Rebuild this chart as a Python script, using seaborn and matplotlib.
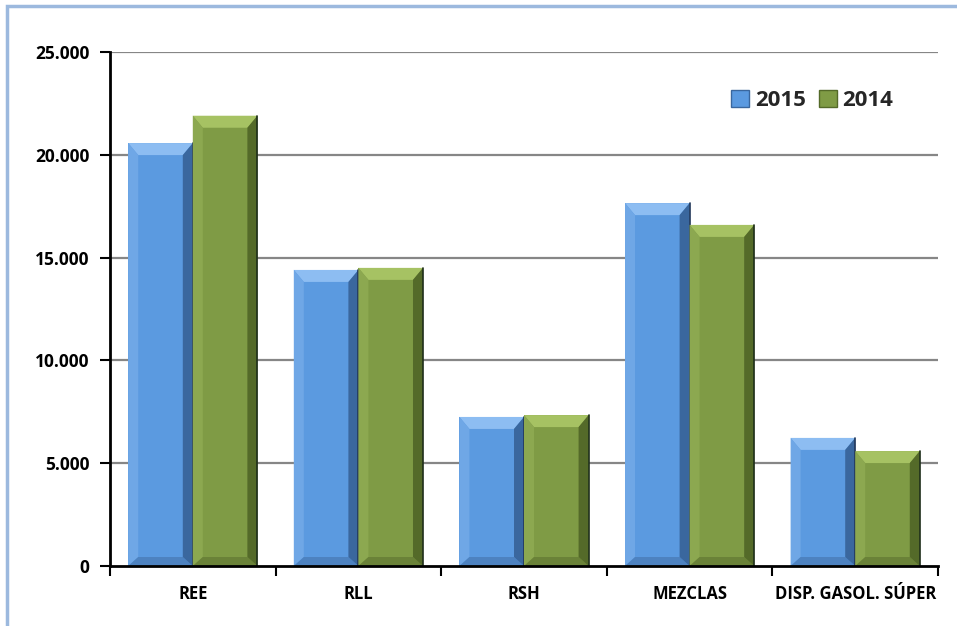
import matplotlib
matplotlib.use("Agg")
import matplotlib.pyplot as plt
import seaborn as sns
import pandas as pd
from matplotlib.patches import Polygon, Rectangle
from matplotlib.ticker import FuncFormatter, FixedLocator

categories = ["REE", "RLL", "RSH", "MEZCLAS", "DISP. GASOL. SÚPER"]
series_names = ["2015", "2014"]
values_2015 = [20570, 14400, 7250, 17650, 6230]
values_2014 = [21900, 14500, 7340, 16590, 5590]
y_ticks = [0, 5000, 10000, 15000, 20000, 25000]

df = pd.DataFrame({
    "cat": categories * 2,
    "year": [series_names[0]] * len(categories) + [series_names[1]] * len(categories),
    "val": values_2015 + values_2014,
})

sns.set_theme(style="white")
plt.rcParams["font.family"] = ["Open Sans", "DejaVu Sans"]
plt.rcParams["font.weight"] = "bold"

fig = plt.figure(figsize=(9.57, 6.26), dpi=100)
ax = fig.add_axes([110/957, 1-566/626, (938-110)/957, (566-52)/626])

base = {"2015": "#5B9AE0", "2014": "#7F9B45"}
light = {"2015": "#8DBDF2", "2014": "#A6C263"}
lside = {"2015": "#6FA7E6", "2014": "#8CA850"}
dark = {"2015": "#3A679E", "2014": "#546A29"}
bottomc = {"2015": "#4D82C0", "2014": "#6A8238"}

sns.barplot(data=df, x="cat", y="val", hue="year", hue_order=series_names,
            order=categories, palette=base, width=0.78, gap=0, saturation=1,
            ax=ax, legend=False, linewidth=0, zorder=3)

ax.set_xlim(-0.5, len(categories) - 0.5)
ax.set_ylim(0, 25000)
ax.set_yticks(y_ticks)
ax.yaxis.set_major_formatter(FuncFormatter(lambda v, p: "0" if v == 0 else f"{int(v):,}".replace(",", ".")))
ax.grid(False)
for t in y_ticks[1:]:
    ax.axhline(t, color="#868686", lw=1.6, zorder=1)

for s in ["top", "right"]:
    ax.spines[s].set_visible(False)
for s in ["left", "bottom"]:
    ax.spines[s].set_color("black")
    ax.spines[s].set_linewidth(2)
    ax.spines[s].set_zorder(5)

ax.set_xlabel("")
ax.set_ylabel("")
ax.tick_params(axis="y", which="major", direction="out", length=7, width=1.5, color="black",
               left=True, labelsize=12.5, pad=8)
ax.tick_params(axis="x", which="major", length=0, labelsize=12, pad=14)
ax.xaxis.set_minor_locator(FixedLocator([i - 0.5 for i in range(len(categories) + 1)]))
ax.tick_params(axis="x", which="minor", direction="out", length=7, width=1.5, color="black", bottom=True)

# bevel overlays derived from the bar patches
fig.canvas.draw()
for tk in ax.xaxis.get_major_ticks() + ax.yaxis.get_major_ticks():
    tk.label1.set_fontweight("bold")
    tk.label1.set_color("black")
inv = ax.transData.inverted()
p0 = inv.transform((0, 0))
p1 = inv.transform((10, 12))
dx = abs(p1[0] - p0[0])
dy = abs(p1[1] - p0[1])
p2 = inv.transform((0, 9))
dyb = abs(p2[1] - p0[1])

bars = [p for p in ax.patches if isinstance(p, Rectangle)]
n = len(categories)
for i, b in enumerate(bars):
    yr = series_names[i // n]
    x0 = b.get_x(); w = b.get_width(); h = b.get_height(); x1 = x0 + w
    top = Polygon([(x0, h), (x1, h), (x1 - dx, h - dy), (x0 + dx, h - dy)], closed=True,
                  facecolor=light[yr], edgecolor="none", zorder=4)
    right = Polygon([(x1, h), (x1, 0), (x1 - dx, dyb), (x1 - dx, h - dy)], closed=True,
                    facecolor=dark[yr], edgecolor="none", zorder=4)
    bot = Polygon([(x0, 0), (x1, 0), (x1 - dx, dyb), (x0 + dx, dyb)], closed=True,
                  facecolor=bottomc[yr], edgecolor="none", zorder=4)
    left = Polygon([(x0, 0), (x0, h), (x0 + dx, h - dy), (x0 + dx, dyb)], closed=True,
                   facecolor=lside[yr], edgecolor="none", zorder=4)
    for poly in (top, left, bot, right):
        ax.add_patch(poly)
    ax.plot([x1, x1], [0, h], color="#1E2E1A" if yr == "2014" else "#22385A", lw=1.2, zorder=4)

# legend
handles = [Rectangle((0, 0), 1, 1, facecolor=base[s], edgecolor=dark[s], lw=1) for s in series_names]
leg = ax.legend(handles, series_names, loc="upper right", bbox_to_anchor=(0.97, 0.965), ncol=2,
                frameon=False, prop={"family": ["Open Sans", "DejaVu Sans"], "weight": "bold", "size": 16},
                handlelength=0.8, handleheight=0.8, handletextpad=0.25, columnspacing=0.6)

# outer frame
fig.patches.append(Rectangle((7.5/957, -0.1), 1.2, 1 - 5.5/626 + 0.1, transform=fig.transFigure,
                             facecolor="none", edgecolor="#9CB9DE", lw=2.5, zorder=0))

fig.savefig("out.png", dpi=100)
